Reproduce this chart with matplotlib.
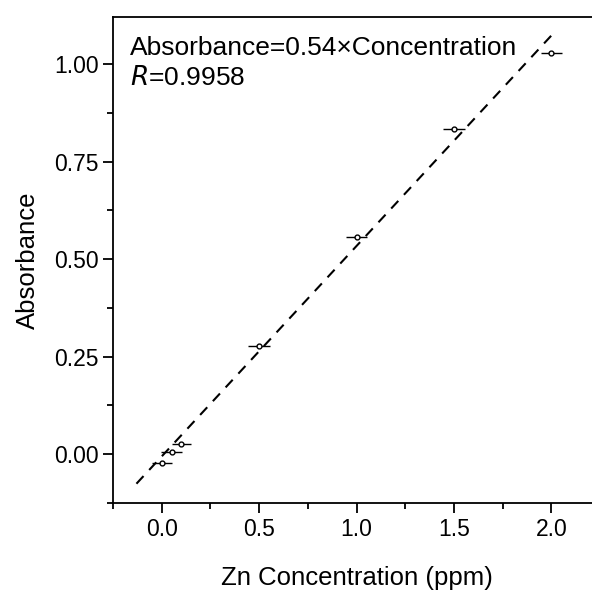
import numpy as np
import matplotlib.pyplot as plt
from matplotlib.ticker import MultipleLocator

# Zn calibration data
conc = [0.0, 0.05, 0.1, 0.5, 1.0, 1.5, 2.0]
absorb = [-0.022, 0.005, 0.026, 0.278, 0.558, 0.833, 1.028]
conc_err = [0.05, 0.055, 0.05, 0.055, 0.055, 0.055, 0.055]
abs_err = [0.002, 0.002, 0.002, 0.004, 0.002, 0.004, 0.002]

fit_slope = 0.54
fit_intercept = -0.006
fit_range = [-0.13, 2.0]

plt.rcParams['font.family'] = ['Liberation Sans', 'DejaVu Sans']

fig = plt.figure(figsize=(5.92, 5.94), dpi=100)
ax = fig.add_axes([0.191, 0.153, 0.8226, 0.818])

xf = np.array(fit_range)
ax.plot(xf, fit_slope * xf + fit_intercept, color='black', linestyle=(0, (5, 4)), lw=1.5)

ax.errorbar(conc, absorb, xerr=conc_err, yerr=abs_err, fmt='o', ms=3.5, mfc='white',
            mec='black', mew=1, ecolor='black', elinewidth=1, capsize=0, color='black')

ax.set_xlim(-0.25, 2.25)
ax.set_ylim(-0.126, 1.121)
ax.xaxis.set_major_locator(MultipleLocator(0.5))
ax.xaxis.set_minor_locator(MultipleLocator(0.25))
ax.yaxis.set_major_locator(MultipleLocator(0.25))
ax.yaxis.set_minor_locator(MultipleLocator(0.125))
ax.xaxis.set_major_formatter(plt.FormatStrFormatter('%.1f'))
ax.yaxis.set_major_formatter(plt.FormatStrFormatter('%.2f'))

ax.spines['right'].set_visible(False)
for s in ['left', 'bottom', 'top']:
    ax.spines[s].set_linewidth(1.3)
ax.tick_params(which='major', direction='out', length=7, width=1.3, labelsize=16.5)
ax.tick_params(which='minor', direction='out', length=4, width=1.3)
ax.tick_params(top=False, right=False, which='both')

ax.set_xlabel('Zn Concentration (ppm)', fontsize=18.5, labelpad=18)
ax.set_ylabel('Absorbance', fontsize=18.5, labelpad=10)

ax.text(0.035, 0.937, 'Absorbance=0.54×Concentration', transform=ax.transAxes,
        fontsize=19, va='center', ha='left')
ax.text(0.035, 0.875, r'$\it{R}$=0.9958', transform=ax.transAxes,
        fontsize=19, va='center', ha='left')

fig.savefig('out.png', dpi=100)
